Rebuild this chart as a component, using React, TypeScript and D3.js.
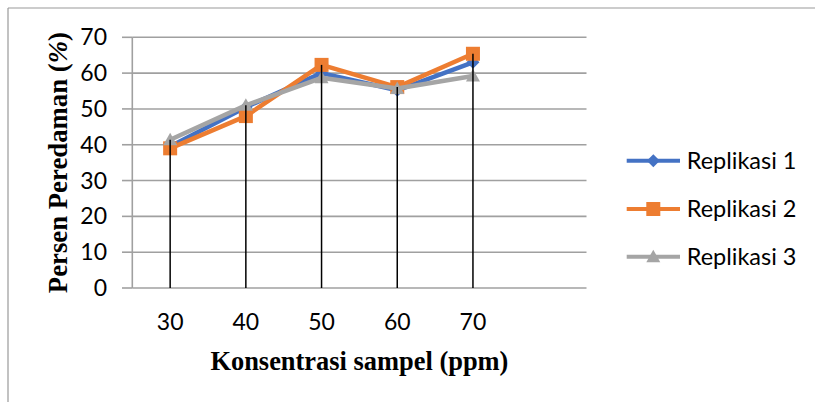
import React from "react";
import * as d3 from "d3";

const categories = ["30", "40", "50", "60", "70", ""];
const xValues = ["30", "40", "50", "60", "70"];
const yTicks = [0, 10, 20, 30, 40, 50, 60, 70];
const replikasi1 = [39.5, 50.5, 60, 55.2, 63];
const replikasi2 = [39, 48, 62.3, 56.1, 65.4];
const replikasi3 = [41.4, 51, 58.7, 55.7, 59.2];
const seriesNames = ["Replikasi 1", "Replikasi 2", "Replikasi 3"];
const seriesColors = ["#4472C4", "#ED7D31", "#A5A5A5"];
const seriesData = [replikasi1, replikasi2, replikasi3];
const xTitle = "Konsentrasi sampel (ppm)";

const W = 815;
const H = 402;
const x = d3.scaleBand<string>().domain(categories).range([132.3, 586.5]).padding(0);
const y = d3.scaleLinear().domain([0, 70]).range([288, 37.3]);

function Marker({ kind, cx, cy, color }: { kind: number; cx: number; cy: number; color: string }) {
  if (kind === 0) {
    const s = 6.5;
    return <path d={`M${cx},${cy - s}L${cx + s},${cy}L${cx},${cy + s}L${cx - s},${cy}Z`} fill={color} />;
  }
  if (kind === 1) {
    const s = 7;
    return <rect x={cx - s} y={cy - s} width={2 * s} height={2 * s} fill={color} />;
  }
  const s = 7;
  return <path d={`M${cx},${cy - s}L${cx + s},${cy + 5.5}L${cx - s},${cy + 5.5}Z`} fill={color} />;
}

export default function App() {
  const cx = (c: string) => (x(c) as number) + x.bandwidth() / 2;
  const line = d3
    .line<number>()
    .x((_, i) => cx(xValues[i]))
    .y((d) => y(d));
  const [x0, x1] = x.range();
  const sans = "Lato, 'Open Sans', sans-serif";
  const serif = "'Liberation Serif', 'Times New Roman', serif";
  const legendY = [160.7, 209, 256.7];
  return (
    <svg width={W} height={H} style={{ position: "absolute", left: 0, top: 0, background: "#fff" }}>
      <rect x={0} y={0} width={W} height={H} fill="#fff" />
      <line x1={8} y1={8} x2={W} y2={8} stroke="#999" strokeWidth={1.2} />
      <line x1={8} y1={8} x2={8} y2={H} stroke="#999" strokeWidth={1.2} />
      {yTicks.map((t) => (
        <g key={t}>
          <line x1={x0} x2={x1} y1={y(t)} y2={y(t)} stroke="#A0A0A0" strokeWidth={1.6} />
          <line x1={122} x2={x0} y1={y(t)} y2={y(t)} stroke="#A0A0A0" strokeWidth={1.6} />
          <text x={107} y={y(t)} dy="0.35em" textAnchor="end" fontFamily={sans} fontSize={23} fill="#000">
            {t}
          </text>
        </g>
      ))}
      <line x1={x0} x2={x0} y1={y(70)} y2={y(0)} stroke="#A0A0A0" strokeWidth={1.6} />
      {xValues.map((c) => (
        <text key={c} x={cx(c)} y={330} textAnchor="middle" fontFamily={sans} fontSize={23} fill="#000">
          {c}
        </text>
      ))}
      {seriesData.map((d, si) => (
        <g key={si}>
          <path d={line(d) || ""} fill="none" stroke={seriesColors[si]} strokeWidth={4.5} strokeLinejoin="round" />
          {d.map((v, i) => (
            <Marker key={i} kind={si} cx={cx(xValues[i])} cy={y(v)} color={seriesColors[si]} />
          ))}
        </g>
      ))}
      {xValues.map((c, i) => {
        const top = Math.max(replikasi1[i], replikasi2[i], replikasi3[i]);
        return <line key={c} x1={cx(c)} x2={cx(c)} y1={y(top)} y2={y(0)} stroke="#000" strokeWidth={1.5} />;
      })}
      <text
        x={(x0 + x1) / 2}
        y={370}
        textAnchor="middle"
        fontFamily={serif}
        fontWeight="bold"
        fontSize={27}
        textLength={298}
        lengthAdjust="spacingAndGlyphs"
        fill="#000"
      >
        {xTitle}
      </text>
      <text
        transform={`translate(66.5,${(y(0) + y(70)) / 2}) rotate(-90)`}
        textAnchor="middle"
        fontFamily={serif}
        fontWeight="bold"
        fontSize={27}
        textLength={261}
        lengthAdjust="spacingAndGlyphs"
        fill="#000"
      >
        Persen Peredaman (<tspan fontStyle="italic">%</tspan>)
      </text>
      {seriesNames.map((n, i) => (
        <g key={n}>
          <line x1={626.7} x2={680} y1={legendY[i]} y2={legendY[i]} stroke={seriesColors[i]} strokeWidth={4} />
          <Marker kind={i} cx={653.3} cy={legendY[i]} color={seriesColors[i]} />
          <text x={686.7} y={legendY[i]} dy="0.35em" fontFamily={sans} fontSize={23.5} fill="#000">
            {n}
          </text>
        </g>
      ))}
    </svg>
  );
}
